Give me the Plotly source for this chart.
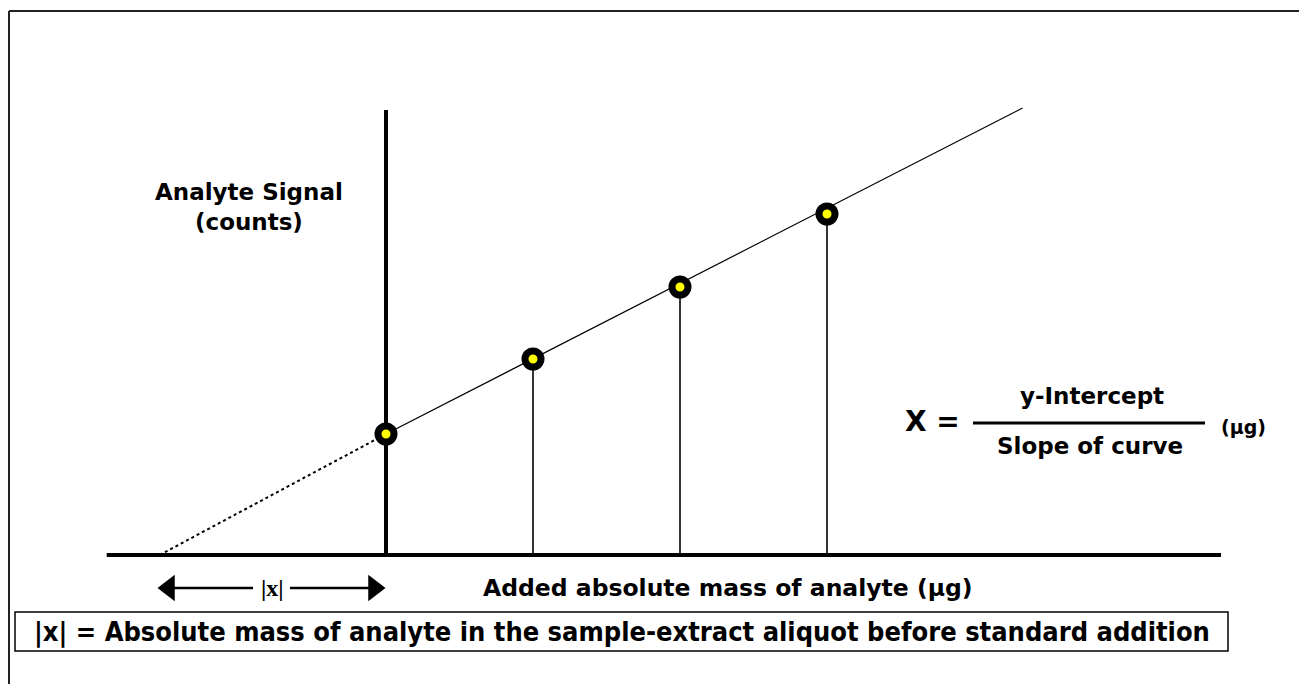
import plotly.graph_objects as go

# ---- data (added mass in µg, signal in counts) ----
added_mass = [0, 1, 2, 3]
signal = [121, 196, 268, 341]
fit_solid_x = [0, 4.33]
fit_solid_y = [121, 447]
extrap_x = [-1.54, 0]
extrap_y = [0, 121]
xaxis_span = [-1.90, 5.68]
yaxis_top = 445

W, H = 1299, 684
X0PX, XSCALE = 386, 147.0
Y0PX = 555

def px2x(p):
    return (p - X0PX) / XSCALE

def px2y(p):
    return Y0PX - p

FONT = "DejaVu Sans"

fig = go.Figure()

# vertical drop lines from each standard-addition point
dx, dy = [], []
for xv, yv in zip(added_mass[1:], signal[1:]):
    dx += [xv, xv, None]
    dy += [0, yv, None]
fig.add_trace(go.Scatter(x=dx, y=dy, mode="lines",
                         line=dict(color="#333", width=2), hoverinfo="skip"))

# axes lines
fig.add_trace(go.Scatter(x=xaxis_span, y=[0, 0], mode="lines",
                         line=dict(color="black", width=4), hoverinfo="skip"))
fig.add_trace(go.Scatter(x=[0, 0], y=[0, yaxis_top], mode="lines",
                         line=dict(color="black", width=4), hoverinfo="skip"))

# extrapolation (dotted) and fitted line
fig.add_trace(go.Scatter(x=extrap_x, y=extrap_y, mode="lines",
                         line=dict(color="black", width=2, dash="dot"), hoverinfo="skip"))
fig.add_trace(go.Scatter(x=fit_solid_x, y=fit_solid_y, mode="lines",
                         line=dict(color="black", width=1.2), hoverinfo="skip"))

# data points
fig.add_trace(go.Scatter(x=added_mass, y=signal, mode="markers",
                         marker=dict(symbol="circle", size=16, color="#ffff00",
                                     line=dict(color="black", width=7)),
                         hoverinfo="skip"))

# |x| arrows
ay = px2y(588)
fig.add_trace(go.Scatter(x=[px2x(253), px2x(172), None, px2x(290), px2x(371)],
                         y=[ay, ay, None, ay, ay], mode="lines",
                         line=dict(color="black", width=2.5), hoverinfo="skip"))
fig.add_trace(go.Scatter(x=[px2x(169), px2x(374)], y=[ay, ay], mode="markers",
                         marker=dict(symbol=["triangle-left", "triangle-right"], size=23,
                                     color="black", line=dict(width=0)),
                         hoverinfo="skip"))

ann = []
def txt(text, xp, yp, size, family=FONT, **kw):
    ann.append(dict(text=text, x=px2x(xp), y=px2y(yp), xref="x", yref="y",
                    showarrow=False, font=dict(family=family, size=size, color="black"),
                    xanchor="center", yanchor="middle", **kw))

txt("<b>Analyte Signal</b><br><b>(counts)</b>", 249, 207, 23)
txt("<b>Added absolute mass of analyte (µg)</b>", 728, 588, 23.5)
txt("<b>|x|</b>", 272, 588, 24, family="Liberation Serif")
txt("<b>X =</b>", 932, 421, 28)
txt("<b>y-Intercept</b>", 1092, 396, 23)
txt("<b>Slope of curve</b>", 1090, 446, 23)
txt("<b>(µg)</b>", 1243, 427, 19)
txt("<b>|x| = Absolute mass of analyte in the sample-extract aliquot before standard addition</b>",
    622, 632, 27, family="DejaVu Sans Condensed")

shapes = [
    # fraction bar
    dict(type="line", xref="x", yref="y", x0=px2x(973), x1=px2x(1205),
         y0=px2y(423), y1=px2y(423), line=dict(color="black", width=3)),
    # bottom box
    dict(type="rect", xref="x", yref="y", x0=px2x(15), x1=px2x(1228),
         y0=px2y(612), y1=px2y(651), line=dict(color="black", width=1.5)),
    # outer frame (top & left)
    dict(type="line", xref="paper", yref="paper", x0=9 / W, x1=1, y0=1 - 11 / H, y1=1 - 11 / H,
         line=dict(color="#222", width=2)),
    dict(type="line", xref="paper", yref="paper", x0=9 / W, x1=9 / W, y0=0, y1=1 - 11 / H,
         line=dict(color="#222", width=2)),
]

fig.update_layout(
    width=W, height=H, autosize=False,
    margin=dict(l=0, r=0, t=0, b=0),
    paper_bgcolor="white", plot_bgcolor="white",
    showlegend=False,
    xaxis=dict(range=[px2x(0), px2x(W)], visible=False, fixedrange=True),
    yaxis=dict(range=[px2y(H), px2y(0)], visible=False, fixedrange=True),
    annotations=ann, shapes=shapes,
)

fig.write_html("out.html", config={"displayModeBar": False},
               post_script="document.body.style.margin='0';document.body.style.overflow='hidden';")
